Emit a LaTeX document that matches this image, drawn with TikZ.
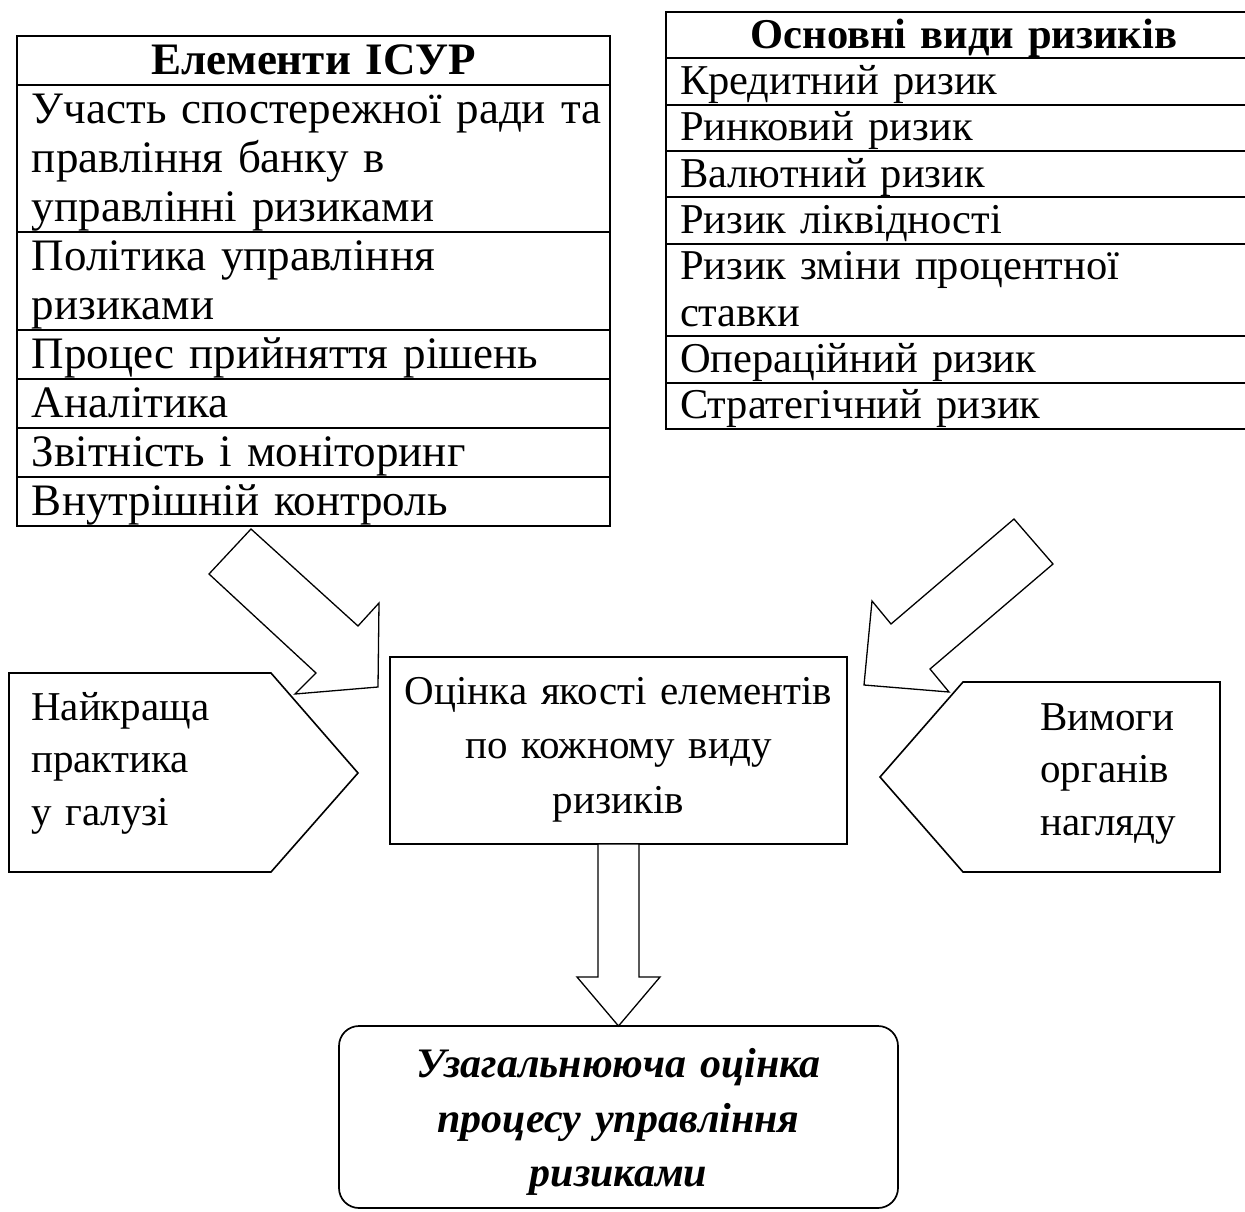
\documentclass[tikz,border=0pt]{standalone}
\usepackage{fontspec}
\setmainfont{Liberation Serif}
\usetikzlibrary{positioning}

\newcommand\tabfont{\fontsize{45}{49}\selectfont}
\newcommand\riskfont{\fontsize{42.5}{46.33}\selectfont}
\newcommand\boxfont{\fontsize{41}{52.5}\selectfont}
\newcommand\evalfont{\fontsize{41}{54.5}\selectfont}
\newcommand\sumfont{\fontsize{42}{54.5}\selectfont\bfseries\itshape}
\newcommand\rowstrut{\rule[-0.22\baselineskip]{0pt}{\baselineskip}}

\begin{document}
\begin{tikzpicture} [
    x=1pt, y=-1pt,
    cell/.style   = { rectangle, draw, line width=2pt, outer sep=0pt,
                      inner ysep=0pt, align=left,
                      execute at begin node=\rowstrut,
                      execute at end node=\rowstrut },
    elem/.style   = { cell, inner xsep=15pt, text width=563pt, font=\tabfont },
    risk/.style   = { cell, inner xsep=14pt, text width=568pt, font=\riskfont },
    box/.style    = { rectangle, draw, line width=2pt, outer sep=0pt },
    txt/.style    = { inner sep=0pt, font=\boxfont,
                      execute at begin node=\rowstrut,
                      execute at end node=\rowstrut },
    pent/.style   = { draw, line width=1.6pt, line join=miter },
    barrow/.style = { draw, line width=1.3pt, fill=white, line join=miter },
  ]

  \useasboundingbox (0,0) rectangle (1245,1212);
  \clip (0,0) rectangle (1245,1212);

  % Define the two tables as matrices
  \matrix (elements) [anchor=north west, inner sep=0pt, outer sep=0pt, row sep=-2pt] at (16,35) {
\node[elem, align=center, font=\tabfont\bfseries](ehead){Елементи ІСУР}; \\
\node[elem](e1){\mbox{Участь спостережної ради та}\\правління банку в\\управлінні ризиками}; \\
\node[elem](e2){Політика управління\\ризиками}; \\
\node[elem](e3){Процес прийняття рішень}; \\
\node[elem](e4){Аналітика}; \\
\node[elem](e5){Звітність і моніторинг}; \\
\node[elem](e6){Внутрішній контроль}; \\
  };

  \matrix (risks) [anchor=north west, inner sep=0pt, outer sep=0pt, row sep=-2pt] at (665,11) {
\node[risk, align=center, font=\riskfont\bfseries](rhead){Основні види ризиків}; \\
\node[risk](r1){Кредитний ризик}; \\
\node[risk](r2){Ринковий ризик}; \\
\node[risk](r3){Валютний ризик}; \\
\node[risk](r4){Ризик ліквідності}; \\
\node[risk](r5){Ризик зміни процентної\\ставки}; \\
\node[risk](r6){Операційний ризик}; \\
\node[risk](r7){Стратегічний ризик}; \\
  };

  % side pentagons
  \path[pent] (9,673) -- (271,673) -- (358,773) -- (271,872) -- (9,872) -- cycle;
  \path[pent] (880,777) -- (963,682) -- (1220,682) -- (1220,872) -- (963,872) -- cycle;
  \node[txt, anchor=north west, text width=220pt, align=left](best) at (31,679)
    {Найкраща\\практика\\у галузі};
  \node[txt, anchor=north west, text width=170pt, align=left](reqs) at (1040,689)
    {Вимоги\\органів\\нагляду};

  % middle and bottom boxes
  \node[box, minimum width=457pt, minimum height=187pt](eval) at (618.5,750.5) {};
  \node[txt, text width=450pt, align=center, font=\evalfont](evaltext) at ([yshift=7pt]eval.center)
    {Оцінка якості елементів\\по кожному виду\\ризиків};
  \node[box, txt, rounded corners=20pt, line width=1.7pt, minimum width=559pt,
        minimum height=182pt, text width=540pt, align=center, font=\sumfont](total) at (618.5,1117)
    {Узагальнююча оцінка\\процесу управління\\ризиками};

  % connect with block arrows
  \path [barrow] (251,529) -- (358,626) -- (379,603) -- (378,687)
                 -- (295,694) -- (316,673) -- (209,574) -- cycle;
  \path [barrow] (1014,519) -- (1053,564) -- (930,669) -- (949,692)
                 -- (864,685) -- (872,601) -- (891,624) -- cycle;
  \path [barrow] ([xshift=-20.5pt]eval.south) -- ++(0,133) -- ++(-21,0)
                 -- (total.north) -- ++(41.5,-49) -- ++(-21,0)
                 -- ([xshift=20.5pt]eval.south) -- cycle;
\end{tikzpicture}
\end{document}
